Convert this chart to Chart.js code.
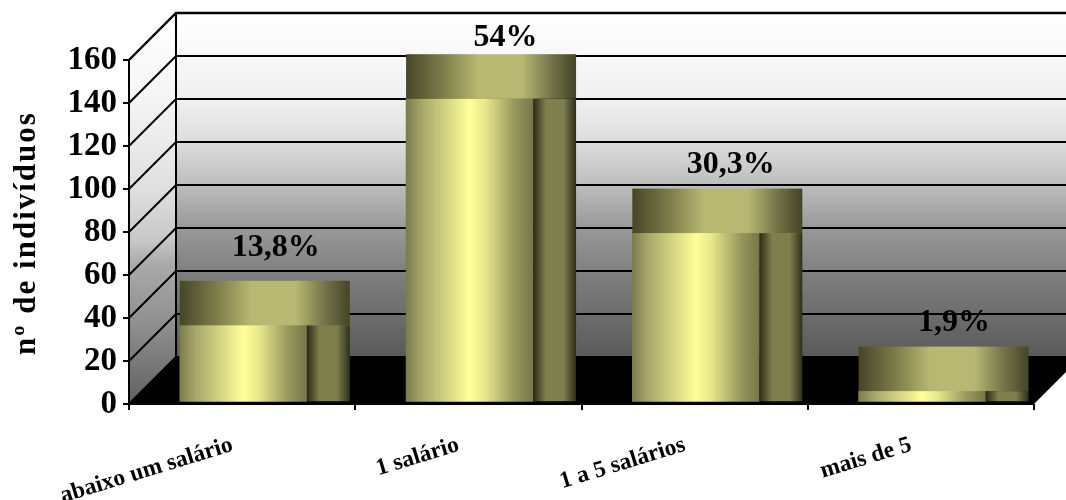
<!DOCTYPE html>
<html><head><meta charset="utf-8">
<style>html,body{margin:0;padding:0;background:#fff}canvas{display:block}</style>
<script src="https://cdn.jsdelivr.net/npm/chart.js@4"></script>
</head><body><canvas id="c" width="1066" height="500"></canvas>
<script>
const categories = ["abaixo um salário", "1 salário", "1 a 5 salários", "mais de 5"];
const individuals = [36.6, 142, 79.5, 6];
const percentLabels = ["13,8%", "54%", "30,3%", "1,9%"];
const yTicks = [0, 20, 40, 60, 80, 100, 120, 140, 160];
const yTitle = "nº de indivíduos";

const labelDx = [32.5, 36, 35, 32];
const labelDy = [-25, -8, -16, -16];
const depth = 47, floorLift = 1, sideW = 43, capH = 44.5, barShift = 1.2, baseLift = 1.7, FONT = '"Liberation Serif"';

function grad(ctx, x0, y0, x1, y1, stops) {
  const g = ctx.createLinearGradient(x0, y0, x1, y1);
  stops.forEach(([p, c]) => g.addColorStop(p, c));
  return g;
}
const hGrad = (ctx, x0, x1, stops) => grad(ctx, x0, 0, x1, 0, stops);
const backStops = [[0,'#ffffff'],[0.25,'#f0f0f0'],[0.38,'#dcdcdc'],[0.5,'#bdbdbd'],[0.62,'#9a9a9a'],[0.75,'#808080'],[1,'#5a5a5a']];
const leftStops = [[0,'#ffffff'],[0.22,'#f5f5f5'],[0.45,'#dfdfdf'],[0.58,'#c8c8c8'],[0.64,'#aaaaaa'],[0.81,'#8c8c8c'],[1,'#606060']];
const frontStops = [[0,'#7c7c4c'],[0.12,'#a6a66a'],[0.5,'#ffff99'],[0.62,'#e8e88c'],[0.85,'#99995e'],[1,'#76764a']];
const sideStops = [[0,'#2a2a18'],[0.3,'#7f7f4d'],[0.7,'#7f7f4d'],[1,'#2f2f1b']];
const capStops = [[0,'#464628'],[0.25,'#85854f'],[0.42,'#b8b873'],[0.68,'#b8b873'],[0.85,'#75754a'],[1,'#444428']];

const scene = {
  id: 'scene',
  afterDatasetsUpdate(chart) {
    chart.getDatasetMeta(0).data.forEach(bar => { bar.x += barShift; bar.base -= baseLift; });
  },
  beforeDraw(chart) {
    const { ctx, chartArea: a, scales: { y } } = chart;
    const x0 = a.left, x1 = a.right, yTop = y.getPixelForValue(160), yBot = y.getPixelForValue(0);
    const W = chart.width;
    ctx.save();
    ctx.fillStyle = grad(ctx, 0, yTop - depth, 0, yBot - depth, backStops);
    ctx.fillRect(x0 + depth, yTop - depth, W - x0 - depth, yBot - yTop);
    ctx.fillStyle = grad(ctx, 0, yTop - depth, 0, yBot, leftStops);
    ctx.beginPath();
    ctx.moveTo(x0, yTop); ctx.lineTo(x0 + depth, yTop - depth);
    ctx.lineTo(x0 + depth, yBot - depth); ctx.lineTo(x0, yBot); ctx.closePath(); ctx.fill();
    ctx.fillStyle = '#000';
    ctx.beginPath();
    ctx.moveTo(x0, yBot); ctx.lineTo(x0 + depth, yBot - depth - floorLift); ctx.lineTo(W, yBot - depth - floorLift);
    ctx.lineTo(W, yBot - (W - x1)); ctx.lineTo(x1, yBot); ctx.closePath(); ctx.fill();
    ctx.strokeStyle = '#000';
    yTicks.forEach(v => {
      const p = y.getPixelForValue(v);
      ctx.lineWidth = v === 160 ? 2.4 : 2;
      ctx.beginPath(); ctx.moveTo(x0, p); ctx.lineTo(x0 + depth, p - depth);
      if (v > 0) ctx.lineTo(W, p - depth);
      ctx.stroke();
    });
    ctx.lineWidth = 2;
    ctx.beginPath(); ctx.moveTo(x0 + depth, yTop - depth); ctx.lineTo(x0 + depth, yBot - depth); ctx.stroke();
    ctx.restore();
  },
  afterDatasetsDraw(chart) {
    const { ctx } = chart;
    ctx.save();
    chart.getDatasetMeta(0).data.forEach((bar, i) => {
      const l = bar.x - bar.width / 2, r = bar.x + bar.width / 2;
      ctx.fillStyle = hGrad(ctx, r, r + sideW, sideStops);
      ctx.fillRect(r, bar.y, sideW, bar.base - bar.y);
      ctx.fillStyle = hGrad(ctx, l, r + sideW, capStops);
      ctx.fillRect(l, bar.y - capH, bar.width + sideW, capH);
      ctx.fillStyle = '#000';
      ctx.font = 'bold 32px ' + FONT;
      ctx.textAlign = 'center';
      ctx.textBaseline = 'alphabetic';
      ctx.fillText(percentLabels[i], bar.x + labelDx[i], bar.y - capH + labelDy[i]);
    });
    ctx.restore();
  },
  afterDraw(chart) {
    const { ctx, scales: { y } } = chart;
    ctx.save();
    ctx.translate(35, (y.top + y.bottom) / 2 + 1);
    ctx.rotate(-Math.PI / 2);
    ctx.letterSpacing = '2px';
    ctx.font = 'bold 31px ' + FONT;
    ctx.fillStyle = '#000';
    ctx.textAlign = 'center';
    ctx.textBaseline = 'alphabetic';
    ctx.fillText(yTitle, 0, 0);
    ctx.restore();
  }
};

new Chart(document.getElementById('c'), {
  type: 'bar',
  data: {
    labels: categories,
    datasets: [{
      data: individuals,
      barThickness: 127,
      borderWidth: 0,
      backgroundColor(c) {
        if (!c.chart.chartArea) return '#ffff99';
        const xc = c.chart.scales.x.getPixelForValue(c.dataIndex) + barShift;
        return hGrad(c.chart.ctx, xc - 63.5, xc + 63.5, frontStops);
      }
    }]
  },
  options: {
    responsive: false,
    animation: false,
    layout: { padding: { top: 60, right: 32, left: 0, bottom: 0 } },
    plugins: { legend: { display: false }, tooltip: { enabled: false } },
    scales: {
      x: {
        afterFit(s) { s.height = 96; },
        grid: { drawOnChartArea: false, drawTicks: true, tickLength: 6, color: '#000', lineWidth: 2 },
        border: { color: '#000', width: 1, z: 1 },
        ticks: {
          color: '#000', minRotation: 17, maxRotation: 17, padding: 21, labelOffset: -10,
          font: { family: FONT, weight: 'bold', size: 23.5 }
        }
      },
      y: {
        min: 0, max: 160,
        afterFit(s) { s.width = 129; },
        afterBuildTicks(s) { s.ticks = yTicks.map(v => ({ value: v })); },
        grid: { drawOnChartArea: false, drawTicks: true, tickLength: 6, color: '#000', lineWidth: 2 },
        border: { color: '#000', width: 2, z: 1 },
        ticks: { color: '#000', padding: 6, font: { family: FONT, weight: 'bold', size: 33 } }
      }
    }
  },
  plugins: [scene]
});
</script></body></html>
